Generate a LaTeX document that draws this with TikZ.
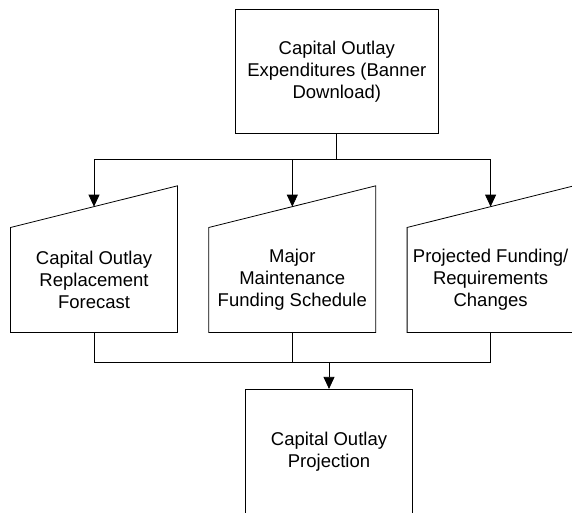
\documentclass[tikz,border=0pt]{standalone}
\usepackage{fontspec}
\setmainfont{Liberation Sans}
\usetikzlibrary{positioning,arrows.meta}

\tikzset{
    box/.style={rectangle, draw, line width=0.8pt, align=center,
        font=\fontsize{18.5bp}{22bp}\selectfont},
    manual/.style={rectangle, align=center, minimum width=166.6bp,
        minimum height=104.6bp, inner sep=0pt,
        font=\fontsize{18.5bp}{22bp}\selectfont},
    line/.style={line width=0.8pt},
    arrow/.style={line width=0.8pt, -{Triangle[length=12bp,width=11bp]}}
}

\begin{document}
\begin{tikzpicture}[x=1bp,y=1bp]
    \clip (0,0) rectangle (572,513);
    \useasboundingbox (0,0) rectangle (572,513);

    \node[box, minimum width=203.5bp, minimum height=124.5bp] (Expenditures) at (336.8,441.5)
        {Capital Outlay\\Expenditures (Banner\\Download)};

    \node[manual] (Replacement) at (94,233) {Capital Outlay\\Replacement\\Forecast};
    \node[manual] (Maintenance) at (292.3,233) {Major\\Maintenance\\Funding Schedule};
    \node[manual] (Changes) at (490.6,233) {Projected Funding/\\Requirements\\Changes};

    \node[box, minimum width=167.4bp, minimum height=125.4bp] (Projection) at (329,61)
        {Capital Outlay\\Projection};

    \coordinate (TopBus) at (336.8,354);
    \coordinate (BottomBus) at (329,150.7);

    \draw[line] (Expenditures.south) -- (TopBus);

    % manual input outlines and their connectors
    \foreach \n in {Replacement,Maintenance,Changes}
    {
        \draw[line] (\n.south west) -- (\n.north west) -- ([yshift=41.7bp]\n.north east)
            -- (\n.south east) -- cycle;
        \draw[arrow] (TopBus) -| ([yshift=20.85bp]\n.north);
        \draw[line] (\n.south) |- (BottomBus);
    }

    \draw[arrow] (BottomBus) -- (Projection.north);
\end{tikzpicture}
\end{document}
